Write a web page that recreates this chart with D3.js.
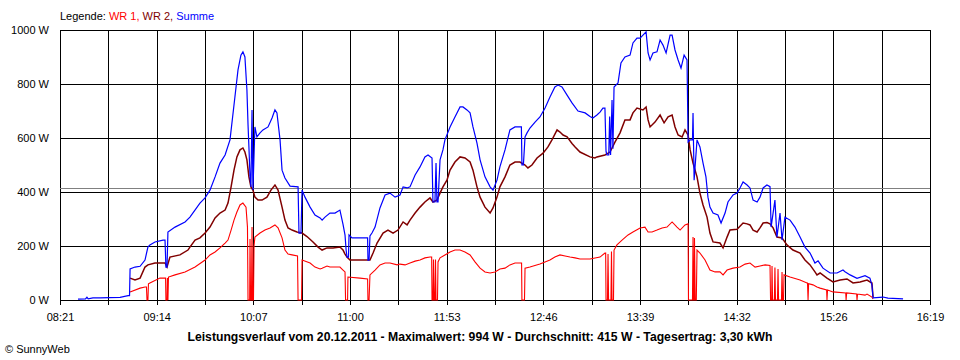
<!DOCTYPE html>
<html>
<head>
<meta charset="utf-8">
<script src="https://cdn.jsdelivr.net/npm/d3@7"></script>
<style>
  html, body { margin: 0; padding: 0; background: #fff; }
  svg { display: block; }
  text { font-family: "Liberation Sans", Arial, sans-serif; }
</style>
</head>
<body>
<svg id="chart" width="960" height="360"></svg>
<script>
// ---- data (time = minutes since midnight, value = W) ----
const timeLabels = ["08:21","09:14","10:07","11:00","11:53","12:46","13:39","14:32","15:26","16:19"];
const yTicks = [0, 200, 400, 600, 800, 1000];
const average = 415;
const legendItems = ["WR 1", "WR 2", "Summe"];
const titleText = "Leistungsverlauf vom 20.12.2011 - Maximalwert: 994 W - Durchschnitt: 415 W - Tagesertrag: 3,30 kWh";

const wr1 = [
[539.5,30],[545.0,44],[547.7,48],[548.5,48],[548.8,0],[549.3,0],[549.6,60],[550.4,63],[555.9,81],[559.0,81],[559.2,0],[559.8,0],[560.0,81],[560.3,0],[560.6,85],
[564.2,93],[569.7,104],[575.2,122],[580.7,148],[583.4,167],[586.2,178],[588.9,193],[591.7,211],[593.3,222],[595.0,259],[596.6,296],[598.2,326],[599.9,352],[601.5,359],
[603.2,344],[604.0,270],[604.3,0],[605.2,0],[605.4,226],[605.7,0],[606.2,0],[606.5,270],[606.8,0],[607.3,0],[607.6,200],[608.1,233],[610.9,248],[613.6,259],[616.4,267],
[619.1,278],[620.8,267],[623.0,230],[624.6,185],[626.3,170],[628.5,167],[631.5,163],[631.8,0],[633.7,0],[634.0,148],[638.4,137],[641.1,122],[643.9,115],[645.0,118],
[647.7,126],[649.3,122],[654.8,122],[656.5,111],[657.6,104],[657.9,0],[659.0,0],[659.2,85],[665.8,81],[670.0,78],[670.2,0],[670.8,0],[671.3,93],[674.1,111],[676.8,130],
[679.6,137],[682.3,137],[686.2,130],[687.8,133],[690.6,130],[693.3,137],[696.1,144],[698.8,148],[701.5,156],[704.3,159],[705.2,159],[705.4,0],[705.9,0],[706.2,150],
[706.5,0],[707.0,0],[707.3,150],[707.6,0],[708.4,0],[708.7,141],[709.8,156],[712.5,167],[715.3,178],[718.0,185],[720.8,185],[723.5,178],[726.3,167],[729.0,141],
[731.8,118],[734.5,104],[737.3,100],[740.0,104],[742.7,115],[745.5,118],[748.2,130],[751.0,137],[753.7,137],[754.6,137],[754.8,0],[756.2,0],[756.5,118],[759.2,122],
[764.7,133],[770.2,148],[772.9,159],[775.7,167],[778.5,163],[781.2,159],[784.0,156],[786.7,152],[792.2,152],[797.7,159],[800.4,174],[800.8,174],[801.0,0],[801.8,0],
[802.1,170],[802.4,0],[803.7,0],[804.0,180],[804.3,0],[805.1,0],[805.4,185],[807.0,204],[809.8,222],[813.1,241],[815.8,252],[819.7,267],[822.4,270],[824.1,252],
[826.3,252],[829.0,259],[831.8,267],[834.5,270],[837.3,289],[840.0,270],[841.7,259],[844.4,278],[846.1,282],[846.3,0],[848.5,0],[848.8,233],[849.1,0],[849.4,0],
[849.6,230],[850.0,0],[850.6,0],[851.0,185],[852.6,174],[855.4,148],[858.1,111],[860.9,104],[863.6,104],[865.3,93],[867.5,111],[870.8,118],[874.6,122],[877.4,133],
[880.1,137],[882.9,122],[885.6,126],[888.4,130],[891.1,128],[891.4,0],[892.0,0],[892.2,126],[892.5,0],[893.5,0],[893.8,120],[894.1,0],[895.2,0],[895.5,115],[895.8,0],
[897.4,0],[897.7,104],[898.0,0],[898.5,0],[898.8,93],[902.1,85],[907.6,74],[911.4,63],[911.7,63],[912.0,0],[912.3,60],[914.7,56],[916.9,48],[918.6,44],[922.2,37],
[922.4,0],[922.7,37],[925.7,30],[932.7,26],[932.9,0],[933.2,26],[938.7,22],[938.9,0],[939.2,22],[943.3,18],[944.4,22],[947.1,11],[947.7,4]
];

const wr2 = [
[539.5,81],[542.2,74],[545.0,81],[547.7,122],[549.3,130],[553.2,137],[558.7,137],[559.8,122],[561.4,159],[566.9,167],[571.3,185],[572.4,196],[575.2,222],[577.9,230],
[580.7,248],[583.4,270],[586.2,304],[588.9,322],[591.7,333],[593.3,359],[595.0,419],[596.6,481],[598.2,530],[599.9,556],[601.5,563],[602.6,548],[603.7,519],[604.8,456],
[605.9,419],[607.0,407],[608.1,381],[609.8,370],[612.0,370],[614.7,381],[616.9,407],[619.1,426],[620.8,407],[623.0,344],[624.6,296],[626.3,267],[628.5,259],[631.2,252],
[634.0,248],[636.7,235],[640.0,215],[642.8,196],[645.0,185],[647.7,193],[651.0,193],[654.8,196],[656.5,185],[657.6,170],[658.7,159],[660.3,148],[663.1,148],[668.6,148],
[671.3,148],[673.0,174],[675.2,211],[678.5,248],[681.2,259],[684.0,248],[686.7,259],[689.5,289],[691.7,278],[693.3,296],[696.1,322],[698.8,344],[701.5,363],[704.3,378],
[705.9,363],[708.1,370],[709.8,396],[711.4,419],[713.6,444],[715.3,481],[718.0,511],[720.8,530],[723.5,526],[726.3,511],[727.9,481],[730.1,419],[731.8,381],[734.5,344],
[737.3,322],[738.9,341],[741.1,381],[742.7,419],[745.5,456],[748.2,500],[751.0,511],[753.7,511],[756.5,500],[758.1,489],[760.3,500],[763.1,526],[766.4,544],[769.1,567],
[771.3,593],[774.1,630],[775.7,622],[777.4,611],[779.6,604],[782.3,580],[784.0,567],[786.7,548],[792.2,530],[794.9,526],[796.0,530],[800.4,537],[803.2,548],[805.9,585],
[808.7,619],[811.4,667],[814.2,667],[815.8,693],[818.0,711],[821.3,704],[823.0,715],[824.1,667],[825.2,641],[827.9,659],[830.7,685],[832.9,656],[835.1,678],[837.3,685],
[838.9,641],[840.6,611],[842.8,604],[844.4,630],[846.1,611],[847.2,556],[848.8,507],[851.0,456],[852.6,396],[854.3,352],[856.5,307],[858.1,248],[859.8,215],[863.6,211],
[865.3,193],[867.5,233],[869.1,259],[873.0,262],[876.3,285],[878.5,282],[880.1,278],[881.8,259],[884.0,252],[885.6,267],[887.3,285],[889.4,287],[891.1,282],[892.8,267],
[894.9,233],[897.7,230],[900.4,204],[903.7,185],[907.6,174],[910.3,148],[913.1,130],[915.8,104],[916.9,93],[918.6,100],[922.4,81],[925.7,67],[929.6,74],[933.4,78],
[936.7,63],[940.6,67],[944.4,74],[947.1,63],[947.7,11]
];

const summe = [
[510.9,3],[515.0,4],[515.8,10],[516.5,4],[519.1,8],[523.0,8],[528.0,9],[534.0,10],[538.4,16],[539.2,16],[539.5,115],[542.2,122],[545.0,125],[547.7,148],[549.3,196],
[550.4,204],[553.2,215],[557.6,222],[558.7,222],[559.2,122],[559.8,122],[560.3,252],[564.2,270],[569.7,289],[572.4,307],[577.9,359],[580.7,378],[583.4,407],[586.2,456],
[588.9,507],[591.7,537],[594.4,593],[597.1,752],[598.8,852],[600.4,907],[601.5,919],[602.6,900],[603.7,778],[604.3,650],[604.8,567],[605.4,456],[605.9,419],[606.5,704],
[607.0,407],[608.1,641],[609.2,604],[610.9,619],[612.5,630],[615.3,641],[617.5,674],[619.1,704],[620.2,693],[621.9,593],[623.0,481],[624.6,452],[627.4,422],[631.8,419],
[632.3,248],[633.4,248],[634.0,407],[635.6,381],[638.4,344],[641.1,315],[643.9,304],[645.0,296],[646.6,307],[649.3,322],[652.1,322],[654.8,333],[656.5,280],[657.6,240],
[658.2,185],[658.7,159],[659.5,159],[659.8,241],[661.4,230],[663.1,230],[668.6,230],[670.0,230],[670.2,148],[670.8,148],[671.3,237],[672.4,248],[674.1,270],[676.8,341],
[679.6,389],[682.3,396],[685.1,381],[687.8,389],[689.5,419],[691.7,415],[693.3,419],[696.1,463],[698.8,493],[701.5,530],[703.2,537],[705.4,526],[705.9,363],[707.0,363],
[707.6,507],[708.1,363],[708.7,363],[709.8,519],[711.4,556],[712.5,593],[715.3,641],[718.0,678],[720.8,715],[722.4,715],[724.6,704],[726.3,693],[727.9,641],[730.1,581],
[731.8,519],[734.5,456],[737.3,419],[738.9,407],[741.1,444],[742.7,493],[745.5,556],[748.2,630],[751.0,641],[753.7,641],[754.5,641],[754.8,500],[755.6,500],[756.5,604],
[757.6,619],[759.2,637],[762.0,659],[764.7,678],[767.5,711],[770.2,752],[772.9,789],[774.6,796],[776.8,789],[779.6,759],[782.3,730],[785.6,700],[789.5,693],[792.2,680],
[793.8,674],[796.0,685],[797.7,696],[799.3,711],[800.4,711],[801.0,550],[801.5,537],[802.5,537],[803.0,680],[803.5,537],[804.3,741],[804.8,560],[805.4,789],[807.6,804],
[809.2,878],[811.4,900],[814.2,907],[815.8,952],[818.0,970],[819.7,970],[821.3,981],[823.0,993],[824.1,915],[825.2,889],[826.8,915],[829.0,919],[830.7,963],[832.3,944],
[834.0,915],[836.2,981],[837.3,981],[838.9,926],[840.6,889],[842.2,859],[843.9,907],[845.5,889],[846.1,585],[847.2,593],[848.5,593],[848.8,693],[849.4,444],[851.0,593],
[852.6,567],[854.3,507],[855.9,456],[857.0,381],[858.1,344],[859.8,322],[862.5,315],[864.2,285],[866.4,322],[868.0,363],[870.8,389],[873.0,396],[874.6,415],[876.3,437],
[878.5,426],[880.1,415],[881.8,370],[884.0,363],[885.6,381],[887.3,415],[889.4,426],[891.1,420],[891.7,270],[893.8,370],[894.9,233],[896.6,322],[897.7,222],[899.3,307],
[902.1,296],[904.8,270],[907.6,233],[910.3,196],[913.1,174],[915.8,137],[917.5,145],[920.2,118],[924.1,100],[927.9,100],[931.2,111],[932.3,105],[935.1,93],[938.9,80],
[943.3,90],[946.0,81],[947.1,55],[947.7,8],[953.2,11],[955.9,7],[964.2,4]
];

// ---- layout ----
const plotLeft = 60, plotRight = 930, plotTop = 30, plotBottom = 300;
const svg = d3.select("#chart");
const x = d3.scaleLinear().domain([501, 979]).range([plotLeft, plotRight]);
const y = d3.scaleLinear().domain([0, 1000]).range([plotBottom, plotTop]);
const xGrid = d3.range(19).map(i => 501 + i * (979 - 501) / 18);

svg.append("rect").attr("width", 960).attr("height", 360).attr("fill", "#fff");

// vertical grid lines with bottom tick marks
const gx = svg.append("g").attr("transform", `translate(0,${plotBottom})`)
  .call(d3.axisBottom(x).tickValues(xGrid).tickSize(5).tickSizeOuter(0).tickPadding(8)
    .tickFormat((d, i) => i % 2 === 0 ? timeLabels[i / 2] : ""));
gx.select(".domain").remove();
gx.selectAll(".tick line").attr("stroke", "#000").attr("y1", -(plotBottom - plotTop)).attr("shape-rendering", "crispEdges");
gx.selectAll("text").attr("font-size", 11).attr("fill", "#000").attr("font-family", '"Liberation Sans", Arial, sans-serif');

// horizontal grid lines with left tick marks
const gy = svg.append("g").attr("transform", `translate(${plotLeft},0)`)
  .call(d3.axisLeft(y).tickValues(yTicks).tickSize(5).tickSizeOuter(0).tickPadding(6)
    .tickFormat(d => d + " W"));
gy.select(".domain").remove();
gy.selectAll(".tick line").attr("stroke", "#000").attr("x2", plotRight - plotLeft).attr("shape-rendering", "crispEdges");
gy.selectAll("text").attr("font-size", 11).attr("fill", "#000").attr("font-family", '"Liberation Sans", Arial, sans-serif');

// average line
svg.append("line")
  .attr("x1", plotLeft).attr("x2", plotRight)
  .attr("y1", Math.round(y(average)) + 0.5).attr("y2", Math.round(y(average)) + 0.5)
  .attr("stroke", "#808080").attr("stroke-width", 1);

// series
const line = d3.line().x(d => x(d[0])).y(d => y(d[1]));
const series = [
  { data: wr1, color: "#ff0000", width: 1.1 },
  { data: wr2, color: "#800000", width: 1.5 },
  { data: summe, color: "#0000ff", width: 1.2 }
];
series.forEach(s => {
  svg.append("path").attr("d", line(s.data)).attr("fill", "none")
    .attr("stroke", s.color).attr("stroke-width", s.width).attr("stroke-linejoin", "miter");
});

// legend
const legend = svg.append("text").attr("x", 60).attr("y", 20).attr("font-size", 11);
legend.append("tspan").attr("fill", "#000").text("Legende: ");
const legendColors = ["#ff0000", "#800000", "#0000ff"];
legendItems.forEach((t, i) => {
  legend.append("tspan").attr("fill", legendColors[i]).text(t + (i < legendItems.length - 1 ? ", " : ""));
});

// title
svg.append("text").attr("x", 480).attr("y", 341).attr("text-anchor", "middle")
  .attr("font-size", 12.2).attr("font-weight", "bold").attr("fill", "#000").text(titleText);

// copyright
svg.append("text").attr("x", 5).attr("y", 353).attr("font-size", 11).attr("fill", "#000").text("\u00A9 SunnyWeb");
</script>
</body>
</html>
